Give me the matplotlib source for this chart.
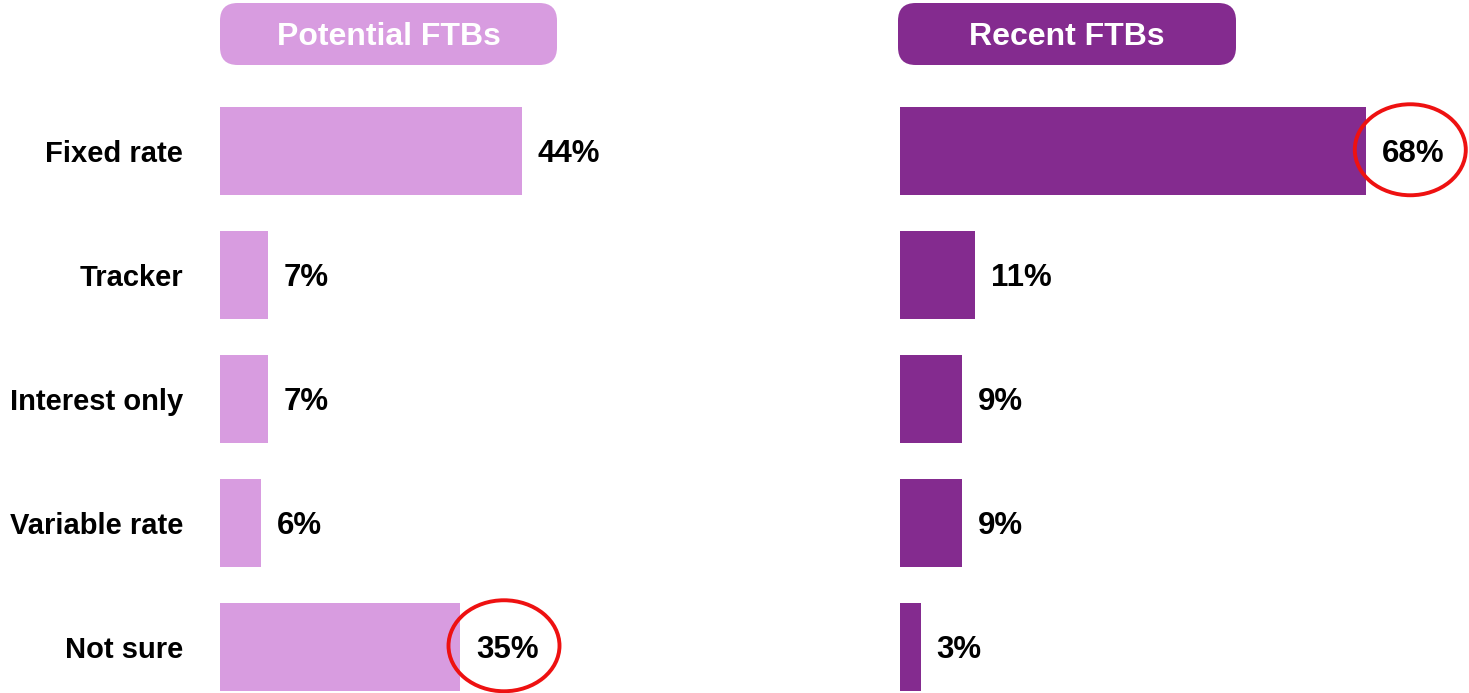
import matplotlib.pyplot as plt
from matplotlib.patches import FancyBboxPatch, Ellipse

categories = ['Fixed rate', 'Tracker', 'Interest only', 'Variable rate', 'Not sure']
potential = [44, 7, 7, 6, 35]
recent = [68, 11, 9, 9, 3]
titles = ['Potential FTBs', 'Recent FTBs']
highlight = [4, 0]  # index of circled value in each panel

light = '#D89CE0'
dark = '#842B8F'

plt.rcParams['font.family'] = ['Liberation Sans', 'DejaVu Sans']

W, H = 1469, 693
fig = plt.figure(figsize=(W / 100, H / 100), dpi=100)

# pixel helpers
def fx(px):
    return px / W

def fy(py):
    return 1 - py / H

ax_w = 480  # px, covers 0..70 %
lefts = [220, 900]
box_x = [(220, 557), (898, 1236)]

for i, (vals, col) in enumerate([(potential, light), (recent, dark)]):
    ax = fig.add_axes([fx(lefts[i]), 0, fx(ax_w), 604 / H])
    y = list(range(len(categories)))
    ax.barh(y, vals, height=88 / 124, color=col)
    ax.set_xlim(0, 70)
    ax.set_ylim(4 + 46 / 124, -0.5)
    for s in ax.spines.values():
        s.set_visible(False)
    ax.set_xticks([])
    if i == 0:
        ax.set_yticks(y)
        ax.set_yticklabels(categories, fontsize=21, fontweight='bold')
        ax.tick_params(axis='y', length=0, pad=26.5)
    else:
        ax.set_yticks([])
    for k, v in enumerate(vals):
        ax.annotate(f'{v}%', (v, k), xytext=(16, -3), textcoords='offset pixels',
                    ha='left', va='center', fontsize=22.5, fontweight='bold')
    # red ellipse around the highlighted value
    h = highlight[i]
    e = Ellipse((vals[h] + 44 / ax_w * 70, h - 0.01), width=111 / ax_w * 70,
                height=91 / 124, fill=False, edgecolor='#EE1111',
                linewidth=2.8, clip_on=False)
    ax.add_patch(e)

    # header box
    x0, x1 = box_x[i]
    box = FancyBboxPatch((fx(x0), fy(65)), fx(x1 - x0), 62 / H,
                         boxstyle='round,pad=0,rounding_size=0.012',
                         transform=fig.transFigure, facecolor=col,
                         edgecolor='none', mutation_aspect=W / H)
    fig.patches.append(box)
    fig.text(fx((x0 + x1) / 2), fy(37), titles[i], color='white',
             fontsize=23, fontweight='bold', ha='center', va='center')

fig.savefig('out.png', dpi=100)
